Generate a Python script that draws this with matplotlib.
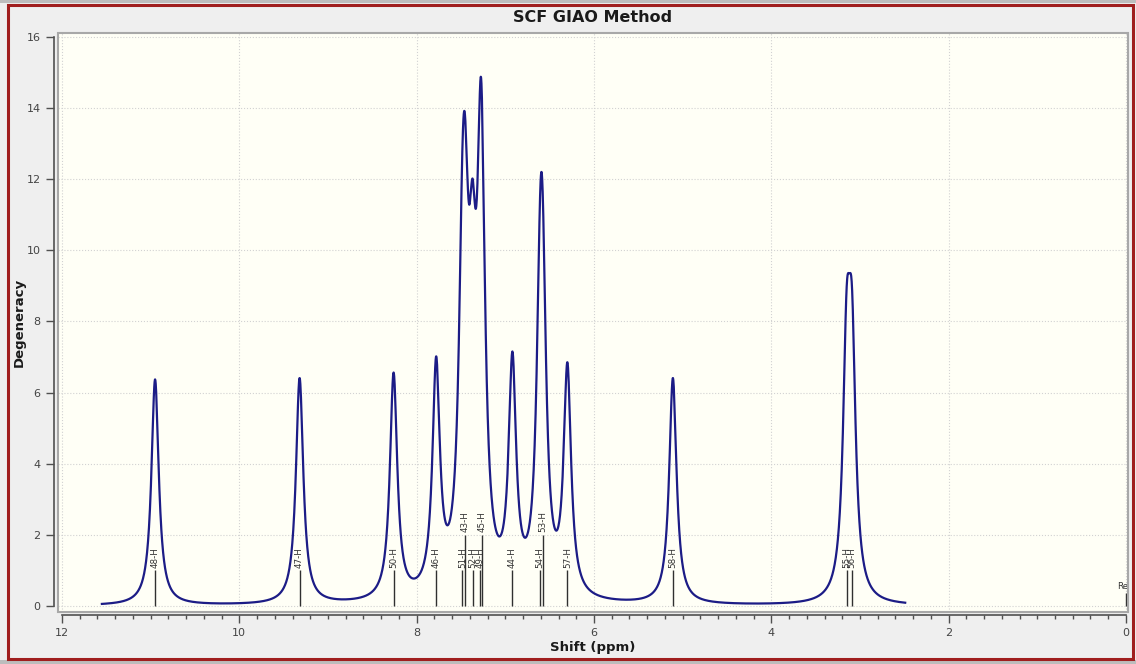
import matplotlib.pyplot as plt
from matplotlib.patches import Rectangle
import numpy as np

# 计算得到的 1H 化学位移 (ppm) 及简并度
atoms = ['48-H', '47-H', '50-H', '46-H', '51-H', '43-H', '52-H', '49-H',
         '45-H', '44-H', '54-H', '53-H', '57-H', '58-H', '55-H', '56-H']
shifts = [10.95, 9.32, 8.26, 7.78, 7.485, 7.452, 7.37, 7.28,
          7.265, 6.92, 6.607, 6.578, 6.30, 5.11, 3.15, 3.09]
degeneracy = [1] * len(atoms)

# 参考峰
ref_label = 'Re'
ref_shift = 0.0
ref_height = 0.37

# 洛伦兹线形参数
half_width = 0.05
peak_scale = 6.35

W, H = 1136, 664
fig = plt.figure(figsize=(W / 100, H / 100), dpi=100, facecolor='#EFEFEF')

# 外框
fig.patches.append(Rectangle((0, 1 - 3 / H), 1, 3 / H, transform=fig.transFigure,
                             facecolor='#BDBDBD', edgecolor='none'))
fig.patches.append(Rectangle((0, 0), 1, 4 / H, transform=fig.transFigure,
                             facecolor='#BDBDBD', edgecolor='none'))
fig.patches.append(Rectangle((8 / W, 5 / H), 1125 / W, 654 / H, transform=fig.transFigure,
                             fill=False, edgecolor='#A01E1E', linewidth=2.2))

ax = fig.add_axes([58 / W, 1 - 612 / H, 1070 / W, 579 / H])
ax.set_facecolor('#FFFFF6')

# 谱线：洛伦兹峰叠加
x = np.linspace(min(shifts) - 0.6, max(shifts) + 0.6, 5000)
y = np.zeros_like(x)
for s, d in zip(shifts, degeneracy):
    y += d * peak_scale * half_width ** 2 / ((x - s) ** 2 + half_width ** 2)
ax.plot(x, y, color='#1C1C86', linewidth=1.6, zorder=3)

# 棒状谱及标签（相近的标签错开一层）
last_on_row = {}
for name, s, d in zip(atoms, shifts, degeneracy):
    row = 1
    while row in last_on_row and abs(last_on_row[row] - s) < 0.04:
        row += 1
    last_on_row[row] = s
    top = d * row
    ax.vlines(s, 0, top, color='#303030', linewidth=1.0, zorder=4)
    ax.annotate(name, (s, top), xytext=(0, 2), textcoords='offset points',
                rotation=90, ha='center', va='bottom', fontsize=6.3,
                color='#333333', zorder=5)

ax.vlines(ref_shift, 0, ref_height, color='#303030', linewidth=1.0, zorder=4)
ax.annotate(ref_label, (ref_shift, ref_height), xytext=(2, 1), textcoords='offset points',
            ha='right', va='bottom', fontsize=6.3, color='#333333', zorder=5)

# 坐标范围与刻度
ax.set_xlim(12.045, -0.023)
ax.set_ylim(-0.17, 16.11)
ax.set_xticks(np.arange(12, -0.1, -2))
ax.set_xticks(np.arange(12, -0.01, -0.2), minor=True)
ax.set_yticks(np.arange(0, 16.1, 2))
ax.set_xticklabels([f'{int(v)}' for v in np.arange(12, -0.1, -2)])
ax.tick_params(axis='both', which='major', length=6, width=1, color='#505050',
               labelsize=8, labelcolor='#444444')
ax.tick_params(axis='x', which='minor', length=3, width=1, color='#505050')
ax.grid(True, which='major', color='#D2D2D2', linestyle=':', linewidth=0.8)
ax.set_axisbelow(True)

# 坐标轴线与图框分开
for side in ['top', 'right']:
    ax.spines[side].set_visible(False)
ax.spines['left'].set_position(('outward', 3))
ax.spines['left'].set_bounds(0, 16)
ax.spines['bottom'].set_position(('outward', 2.2))
ax.spines['bottom'].set_bounds(12, 0)
for side in ['left', 'bottom']:
    ax.spines[side].set_color('#505050')
    ax.spines[side].set_linewidth(1.2)
ax.add_patch(Rectangle((0, 0), 1, 1, transform=ax.transAxes, fill=False,
                       edgecolor='#A8A8A8', linewidth=1.5, clip_on=False, zorder=6))

# 标题与轴标签
fig.text(593 / W, 1 - 17 / H, 'SCF GIAO Method', ha='center', va='center',
         fontsize=11.5, fontweight='bold', color='#1A1A1A')
fig.text(593 / W, 1 - 648 / H, 'Shift (ppm)', ha='center', va='center',
         fontsize=9.5, fontweight='bold', color='#1A1A1A')
fig.text(19 / W, 1 - 322 / H, 'Degeneracy', ha='center', va='center', rotation=90,
         fontsize=9.5, fontweight='bold', color='#1A1A1A')

fig.savefig('out.png', dpi=100, facecolor=fig.get_facecolor())
